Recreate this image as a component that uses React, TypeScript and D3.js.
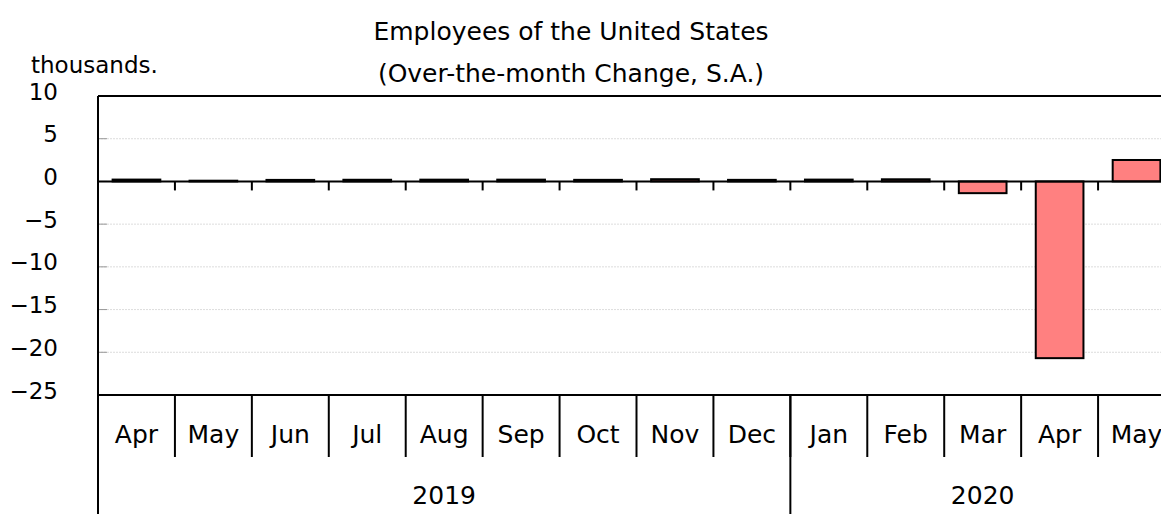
import React, { useEffect, useRef } from "react";
import * as d3 from "d3";

const months = ["Apr", "May", "Jun", "Jul", "Aug", "Sep", "Oct", "Nov", "Dec", "Jan", "Feb", "Mar", "Apr", "May"];
const years = ["2019", "2020"];
const yearMonths = [9, 5]; // number of months in each year group
const changes = [0.216, 0.085, 0.178, 0.194, 0.207, 0.208, 0.185, 0.261, 0.184, 0.214, 0.251, -1.373, -20.687, 2.509];
const yTicks = [10, 5, 0, -5, -10, -15, -20, -25];
const titleLines = ["Employees of the United States", "(Over-the-month Change, S.A.)"];
const unitLabel = "thousands.";

const W = 1161;
const H = 514;
const FONT = "'DejaVu Sans', sans-serif";

function App() {
  const svgRef = useRef<SVGSVGElement>(null);

  useEffect(() => {
    const svg = d3.select(svgRef.current);
    svg.selectAll("*").remove();

    const left = 98, right = 1175, top = 96, bottom = 395;

    const keys = months.map((m, i) => i);
    const x = d3.scaleBand<number>().domain(keys).range([left, right]).paddingInner(0).paddingOuter(0);
    const y = d3.scaleLinear().domain([-25, 10]).range([bottom, top]);

    // grid lines
    svg.append("g")
      .selectAll("line")
      .data(yTicks.filter(t => t !== 10 && t !== -25 && t !== 0))
      .join("line")
      .attr("x1", left).attr("x2", right)
      .attr("y1", d => y(d)).attr("y2", d => y(d))
      .attr("stroke", "#d4d4d4")
      .attr("stroke-width", 0.8)
      .attr("stroke-dasharray", "2,1");

    // small inner ticks on y
    svg.append("g")
      .selectAll("line")
      .data(yTicks)
      .join("line")
      .attr("x1", left).attr("x2", left + 9)
      .attr("y1", d => y(d)).attr("y2", d => y(d))
      .attr("stroke", "#999")
      .attr("stroke-width", 1);

    // y labels
    svg.append("g")
      .selectAll("text")
      .data(yTicks)
      .join("text")
      .attr("x", 58)
      .attr("y", d => y(d) - 3)
      .attr("text-anchor", "end")
      .attr("dominant-baseline", "middle")
      .style("font-family", FONT)
      .style("font-size", "23px")
      .text(d => d3.format("d")(d));

    // bars
    svg.append("g")
      .selectAll("rect")
      .data(changes)
      .join("rect")
      .attr("x", (d, i) => x(i)! + x.bandwidth() * 0.19)
      .attr("width", x.bandwidth() * 0.62)
      .attr("y", d => y(Math.max(0, d)))
      .attr("height", d => Math.abs(y(d) - y(0)))
      .attr("fill", "#ff8080")
      .attr("stroke", "#000")
      .attr("stroke-width", 2);

    // zero line and its ticks
    svg.append("line")
      .attr("x1", left).attr("x2", right)
      .attr("y1", y(0)).attr("y2", y(0))
      .attr("stroke", "#000").attr("stroke-width", 2);
    svg.append("g")
      .selectAll("line")
      .data(keys.slice(1))
      .join("line")
      .attr("x1", d => x(d)!).attr("x2", d => x(d)!)
      .attr("y1", y(0)).attr("y2", y(0) + 9)
      .attr("stroke", "#000").attr("stroke-width", 2);

    // frame
    svg.append("line").attr("x1", left).attr("x2", right).attr("y1", top).attr("y2", top)
      .attr("stroke", "#000").attr("stroke-width", 2);
    svg.append("line").attr("x1", left).attr("x2", right).attr("y1", bottom).attr("y2", bottom)
      .attr("stroke", "#000").attr("stroke-width", 2);
    svg.append("line").attr("x1", left).attr("x2", left).attr("y1", top).attr("y2", H)
      .attr("stroke", "#000").attr("stroke-width", 2);

    // month separators
    svg.append("g")
      .selectAll("line")
      .data(keys.slice(1))
      .join("line")
      .attr("x1", d => x(d)!).attr("x2", d => x(d)!)
      .attr("y1", bottom).attr("y2", 457)
      .attr("stroke", "#000").attr("stroke-width", 2);

    // month labels
    svg.append("g")
      .selectAll("text")
      .data(months)
      .join("text")
      .attr("x", (d, i) => x(i)! + x.bandwidth() / 2)
      .attr("y", 436)
      .attr("text-anchor", "middle")
      .attr("dominant-baseline", "middle")
      .style("font-family", FONT)
      .style("font-size", "25px")
      .text(d => d);

    // year groups
    let start = 0;
    years.forEach((yr, gi) => {
      const n = yearMonths[gi];
      const x0 = x(start)!;
      const x1 = start + n < months.length ? x(start + n)! : right;
      if (gi > 0) {
        svg.append("line").attr("x1", x0).attr("x2", x0).attr("y1", bottom).attr("y2", H)
          .attr("stroke", "#000").attr("stroke-width", 2);
      }
      svg.append("text")
        .attr("x", (x0 + x1) / 2)
        .attr("y", 497)
        .attr("text-anchor", "middle")
        .attr("dominant-baseline", "middle")
        .style("font-family", FONT)
        .style("font-size", "25px")
        .text(yr);
      start += n;
    });

    // titles
    svg.append("text")
      .attr("x", 31).attr("y", 66)
      .attr("dominant-baseline", "middle")
      .style("font-family", FONT)
      .style("font-size", "23px")
      .text(unitLabel);
    titleLines.forEach((t, i) => {
      svg.append("text")
        .attr("x", 571).attr("y", 33 + i * 42)
        .attr("text-anchor", "middle")
        .attr("dominant-baseline", "middle")
        .style("font-family", FONT)
        .style("font-size", "25px")
        .text(t);
    });
  }, []);

  return (
    <svg ref={svgRef} width={W} height={H}
      style={{ position: "absolute", left: 0, top: 0, background: "#fff" }} />
  );
}

export default App;
